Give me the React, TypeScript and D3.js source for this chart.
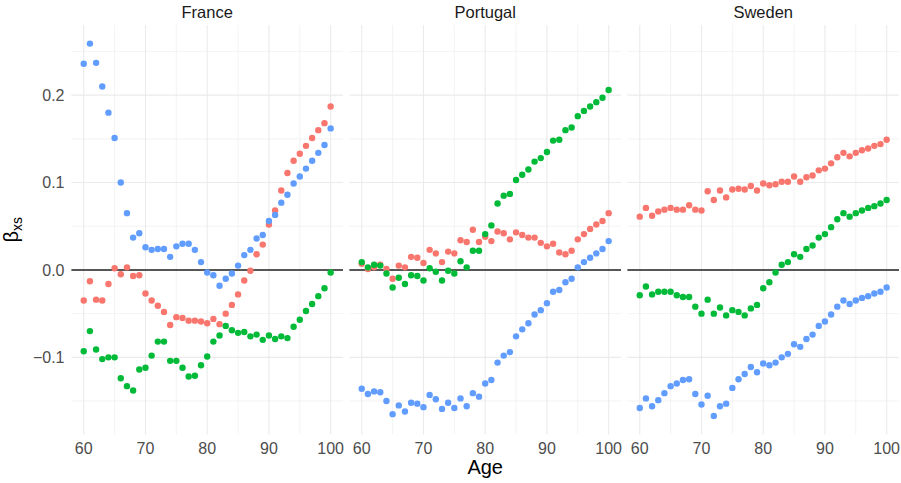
import React from 'react';
import * as d3 from 'd3';

const ages = [
  60, 61, 62, 63, 64, 65, 66, 67, 68, 69, 70, 71, 72, 73, 74, 75, 76, 77, 78, 79, 80,
  81, 82, 83, 84, 85, 86, 87, 88, 89, 90, 91, 92, 93, 94, 95, 96, 97, 98, 99, 100,
];

const countries = ['France', 'Portugal', 'Sweden'];
const seriesKeys = ['s1', 's2', 's3'];
const seriesColors = ['#F8766D', '#00BA38', '#619CFF'];

const xTicks = [60, 70, 80, 90, 100];
const xMinor = [65, 75, 85, 95];
const yTicks = [-0.1, 0, 0.1, 0.2];
const yTickLabels = ['\u22120.1', '0.0', '0.1', '0.2'];
const yMinor = [-0.15, -0.05, 0.05, 0.15, 0.25];

// France
const franceS1 = [
  -0.035, -0.013, -0.034, -0.035, -0.016, 0.002, -0.005, 0.003, -0.007, -0.006,
  -0.027, -0.035, -0.041, -0.048, -0.063, -0.054, -0.055, -0.058, -0.058, -0.059,
  -0.061, -0.056, -0.062, -0.05, -0.04, -0.028, -0.012, -0.001, 0.018, 0.029,
  0.052, 0.068, 0.091, 0.111, 0.125, 0.133, 0.142, 0.151, 0.16, 0.168, 0.187,
];
const franceS2 = [
  -0.093, -0.07, -0.091, -0.102, -0.1, -0.1, -0.124, -0.133, -0.138, -0.114,
  -0.112, -0.098, -0.082, -0.082, -0.104, -0.104, -0.112, -0.122, -0.121, -0.109,
  -0.099, -0.082, -0.075, -0.064, -0.069, -0.072, -0.071, -0.076, -0.074, -0.08,
  -0.075, -0.079, -0.076, -0.078, -0.065, -0.057, -0.047, -0.039, -0.03, -0.021, -0.003,
];
const franceS3 = [
  0.236, 0.259, 0.237, 0.21, 0.18, 0.151, 0.1, 0.065, 0.037, 0.042,
  0.026, 0.023, 0.024, 0.024, 0.015, 0.027, 0.03, 0.03, 0.023, 0.009,
  -0.003, -0.006, -0.018, -0.01, -0.004, 0.005, 0.017, 0.023, 0.036, 0.04,
  0.056, 0.063, 0.077, 0.086, 0.099, 0.107, 0.116, 0.125, 0.134, 0.143, 0.162,
];

// Portugal
const portugalS1 = [
  0.007, 0.001, 0.003, 0.006, 0.001, -0.01, 0.005, 0.003, 0.015, 0.014,
  0.008, 0.023, 0.019, 0.009, 0.021, 0.019, 0.034, 0.032, 0.046, 0.032,
  0.038, 0.033, 0.044, 0.042, 0.035, 0.043, 0.04, 0.037, 0.037, 0.031,
  0.027, 0.03, 0.02, 0.018, 0.022, 0.035, 0.041, 0.047, 0.052, 0.056, 0.065,
];
const portugalS2 = [
  0.009, 0.003, 0.006, 0.005, -0.004, -0.02, -0.009, -0.016, -0.006, -0.007,
  -0.012, 0.002, -0.002, -0.012, -0.001, -0.004, 0.01, 0.003, 0.022, 0.022,
  0.041, 0.051, 0.076, 0.085, 0.087, 0.103, 0.109, 0.115, 0.124, 0.128,
  0.135, 0.148, 0.149, 0.16, 0.163, 0.176, 0.182, 0.187, 0.192, 0.197, 0.206,
];
const portugalS3 = [
  -0.136, -0.142, -0.139, -0.14, -0.15, -0.165, -0.155, -0.162, -0.152, -0.153,
  -0.157, -0.143, -0.148, -0.159, -0.152, -0.158, -0.147, -0.156, -0.141, -0.145,
  -0.13, -0.126, -0.106, -0.098, -0.094, -0.076, -0.068, -0.061, -0.051, -0.046,
  -0.038, -0.025, -0.023, -0.014, -0.01, 0.003, 0.009, 0.014, 0.019, 0.024, 0.033,
];

// Sweden
const swedenS1 = [
  0.061, 0.071, 0.062, 0.067, 0.069, 0.071, 0.069, 0.069, 0.074, 0.069,
  0.068, 0.09, 0.08, 0.091, 0.083, 0.092, 0.093, 0.092, 0.096, 0.091,
  0.099, 0.097, 0.098, 0.101, 0.101, 0.107, 0.101, 0.106, 0.108, 0.114,
  0.116, 0.122, 0.129, 0.134, 0.13, 0.134, 0.137, 0.139, 0.142, 0.144, 0.149,
];
const swedenS2 = [
  -0.029, -0.019, -0.028, -0.025, -0.025, -0.025, -0.029, -0.031, -0.031, -0.042,
  -0.05, -0.034, -0.05, -0.043, -0.052, -0.046, -0.048, -0.052, -0.044, -0.04,
  -0.021, -0.014, -0.003, 0.006, 0.009, 0.018, 0.015, 0.024, 0.028, 0.037,
  0.041, 0.049, 0.058, 0.065, 0.061, 0.065, 0.068, 0.071, 0.073, 0.076, 0.08,
];
const swedenS3 = [
  -0.158, -0.147, -0.156, -0.149, -0.141, -0.133, -0.13, -0.126, -0.125, -0.142,
  -0.154, -0.144, -0.167, -0.156, -0.153, -0.135, -0.125, -0.119, -0.111, -0.117,
  -0.107, -0.109, -0.106, -0.1, -0.096, -0.085, -0.088, -0.079, -0.074, -0.064,
  -0.059, -0.051, -0.042, -0.035, -0.039, -0.035, -0.032, -0.03, -0.027, -0.025, -0.02,
];

const panelSeries = [
  [franceS1, franceS2, franceS3],
  [portugalS1, portugalS2, portugalS3],
  [swedenS1, swedenS2, swedenS3],
];

const W = 901;
const H = 483;
const panelLeft = 71.4;
const panelW = 271.6;
const panelGap = 6.4;
const panelTop = 25;
const panelBottom = 434.5;
const font = "'Liberation Sans', Arial, Helvetica, sans-serif";

export default function App() {
  const all = panelSeries.flat(2);
  const [lo, hi] = d3.extent(all) as [number, number];
  const pad = (hi - lo) * 0.05;
  const y = d3.scaleLinear().domain([lo - pad, hi + pad]).range([panelBottom, panelTop]);

  const panels = countries.map((name, i) => {
    const x0 = panelLeft + i * (panelW + panelGap);
    const x = d3.scaleLinear().domain([58, 102]).range([x0, x0 + panelW]);
    return { name, x, x0, series: panelSeries[i] };
  });

  return (
    <div style={{ position: 'fixed', left: 0, top: 0 }}>
      <svg width={W} height={H} style={{ display: 'block', background: '#fff' }} fontFamily={font}>
        {panels.map((p) => (
          <g key={p.name}>
            {/* grid */}
            {yMinor.map((v) => (
              <line key={'ym' + v} x1={p.x0} x2={p.x0 + panelW} y1={y(v)} y2={y(v)} stroke="#EBEBEB" strokeWidth={0.6} />
            ))}
            {xMinor.map((v) => (
              <line key={'xm' + v} x1={p.x(v)} x2={p.x(v)} y1={panelTop} y2={panelBottom} stroke="#EBEBEB" strokeWidth={0.6} />
            ))}
            {yTicks.map((v) => (
              <line key={'y' + v} x1={p.x0} x2={p.x0 + panelW} y1={y(v)} y2={y(v)} stroke="#EBEBEB" strokeWidth={1.1} />
            ))}
            {xTicks.map((v) => (
              <line key={'x' + v} x1={p.x(v)} x2={p.x(v)} y1={panelTop} y2={panelBottom} stroke="#EBEBEB" strokeWidth={1.1} />
            ))}
            {/* zero line */}
            <line x1={p.x0} x2={p.x0 + panelW} y1={y(0)} y2={y(0)} stroke="#222" strokeWidth={1.4} />
            {/* points */}
            {p.series.map((vals, si) => (
              <g key={seriesKeys[si]} fill={seriesColors[si]}>
                {vals.map((v, k) => (
                  <circle key={k} cx={p.x(ages[k])} cy={y(v)} r={3.2} />
                ))}
              </g>
            ))}
            {/* strip */}
            <text x={p.x0 + panelW / 2} y={18.3} textAnchor="middle" fontSize={16.5} fill="#1A1A1A">
              {p.name}
            </text>
            {/* x tick labels */}
            {xTicks.map((v) => (
              <text key={'xl' + v} x={p.x(v)} y={454.3} textAnchor="middle" fontSize={16} fill="#4D4D4D">
                {v}
              </text>
            ))}
          </g>
        ))}
        {/* y tick labels */}
        {yTicks.map((v, i) => (
          <text key={'yl' + v} x={64.5} y={y(v)} dy="0.36em" textAnchor="end" fontSize={16} fill="#4D4D4D">
            {yTickLabels[i]}
          </text>
        ))}
        {/* axis titles */}
        <text x={(panelLeft + panelLeft + 3 * panelW + 2 * panelGap) / 2} y={474} textAnchor="middle" fontSize={20} fill="#000">
          Age
        </text>
        <text transform="translate(18,229.7) rotate(-90)" textAnchor="middle" fontSize={20} fill="#000">
          β<tspan dy={4} fontSize={14}>xs</tspan>
        </text>
      </svg>
    </div>
  );
}
